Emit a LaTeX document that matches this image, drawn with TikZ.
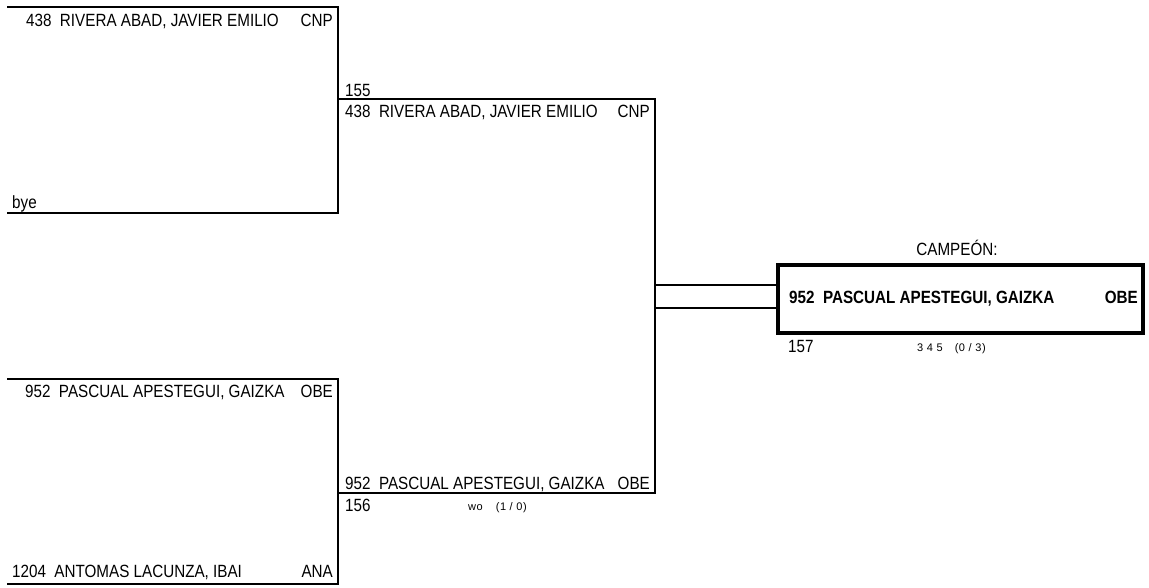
\documentclass[tikz,border=0pt]{standalone}
\usepackage{fontspec}
\setmainfont{Liberation Sans}[FakeStretch=0.86]
\newfontfamily\scorefont{Liberation Sans}[LetterSpace=5]
\begin{document}
\begin{tikzpicture}[x=1pt,y=-1pt,
  line/.style={line width=2pt,line cap=rect},
  champline/.style={line width=4pt},
  txt/.style={inner sep=0pt,font=\fontsize{17.7}{20}\selectfont},
  num/.style={txt,anchor=base west},
  nm/.style={txt,anchor=base west},
  club/.style={txt,anchor=base east},
  small/.style={inner sep=0pt,anchor=base west,font=\scorefont\fontsize{11}{13}\selectfont},
  bold/.style={inner sep=0pt,font=\fontsize{17.7}{20}\selectfont\bfseries}]
\useasboundingbox (0,0) rectangle (1149,587);
% round 1 coordinates
\coordinate (a1) at (8,7);   \coordinate (a2) at (338,7);
\coordinate (b1) at (8,213); \coordinate (b2) at (338,213);
\coordinate (c1) at (8,379); \coordinate (c2) at (338,379);
\coordinate (d1) at (8,584); \coordinate (d2) at (338,584);
% round 2
\coordinate (e2) at (655,99);
\coordinate (f2) at (655,493);
\coordinate (e1) at (338,99);
\coordinate (f1) at (338,493);
% champion connectors
\coordinate (g1) at (655,285); \coordinate (g2) at (776,285);
\coordinate (h1) at (655,308); \coordinate (h2) at (776,308);
\draw[line] (a1) -- (a2) -- (b2) -- (b1);
\draw[line] (c1) -- (c2) -- (d2) -- (d1);
\draw[line] (e1) -- (e2) -- (f2) -- (f1);
\draw[line] (g1) -- (g2);
\draw[line] (h1) -- (h2);
\node[draw,champline,minimum width=365pt,minimum height=68pt,anchor=north west,inner sep=0pt] (box) at (776,263) {};
% round 1 texts
\node[num] (n1) at (26,26) {438};
\node[nm] (p1) at ([xshift=8pt]n1.base east) {RIVERA ABAD, JAVIER EMILIO};
\node[club] (k1) at (333,26) {CNP};
\node[num] (bye) at (12,208) {bye};
\node[num] (n3) at (25,397) {952};
\node[nm] (p3) at ([xshift=8pt]n3.base east) {PASCUAL APESTEGUI, GAIZKA};
\node[club] (k3) at (333,397) {OBE};
\node[num] (n4) at (12,577) {1204};
\node[nm] (p4) at ([xshift=8pt]n4.base east) {ANTOMAS LACUNZA, IBAI};
\node[club] (k4) at (333,577) {ANA};
% round 2 texts
\node[num] (m155) at (345,96) {155};
\node[num] (n5) at (345,117) {438};
\node[nm] (p5) at ([xshift=8pt]n5.base east) {RIVERA ABAD, JAVIER EMILIO};
\node[club] (k5) at (650,117) {CNP};
\node[num] (n6) at (345,489) {952};
\node[nm] (p6) at ([xshift=8pt]n6.base east) {PASCUAL APESTEGUI, GAIZKA};
\node[club] (k6) at (650,489) {OBE};
\node[num] (m156) at (345,511) {156};
\node[small] (wo) at (468,510) {wo\hspace{13pt}(1 / 0)};
% champion texts
\node[txt,anchor=base] (camp) at (957,255) {CAMPEÓN:};
\node[bold,anchor=base west] (n7) at (789,303) {952};
\node[bold,anchor=base west] (p7) at ([xshift=8pt]n7.base east) {PASCUAL APESTEGUI, GAIZKA};
\node[bold,anchor=base east] (k7) at (1138,303) {OBE};
\node[num] (m157) at (788,352) {157};
\node[small] (sc) at (917,351) {3 4 5\hspace{12pt}(0 / 3)};
\end{tikzpicture}
\end{document}
